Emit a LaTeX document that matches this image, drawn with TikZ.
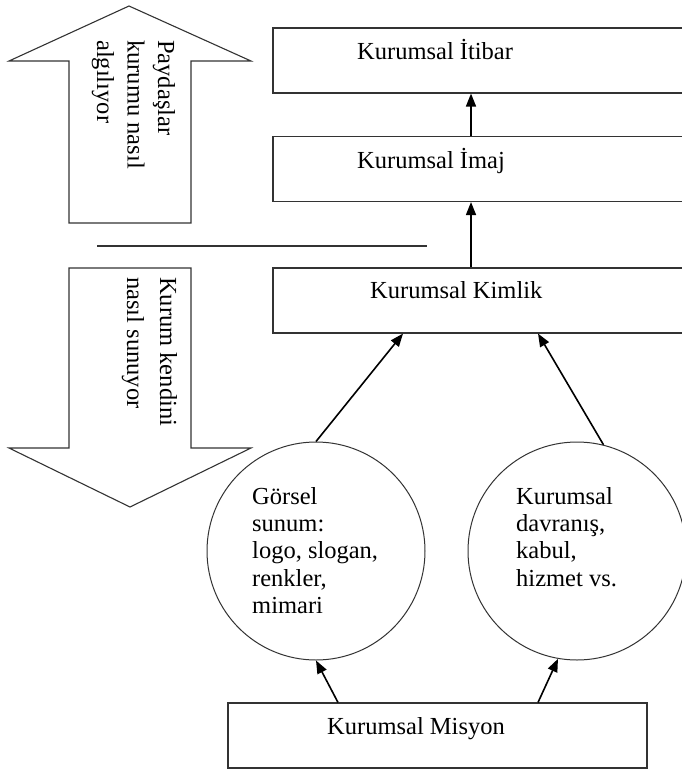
\documentclass[tikz,border=0pt]{standalone}
\usepackage{fontspec}
\setmainfont{Liberation Serif}
\usetikzlibrary{arrows.meta}
\begin{document}
\begin{tikzpicture}[x=1pt,y=-1pt,
  bigarrow/.style={draw=black!80,line width=1.1pt},
  box/.style={draw=black!80,line width=1.1pt,rectangle,minimum width=427pt,minimum height=65pt,inner sep=0pt},
  circ/.style={draw=black!80,line width=1pt,circle,minimum size=218pt,inner sep=0pt},
  txt/.style={inner sep=0pt,font=\fontsize{24.5}{27.4}\selectfont},
  arr/.style={line width=1.6pt,-{Triangle[length=13pt,width=10pt]}}]
\clip (0,0) rectangle (682,769);
\fill[white] (0,0) rectangle (682,769);
% big arrows
\draw[bigarrow] (129,6) -- (251,61) -- (191,61) -- (191,223) -- (69,223) -- (69,61) -- (9,61) -- cycle;
\draw[bigarrow] (69,268) -- (191,268) -- (191,448) -- (251,448) -- (130,507) -- (9,448) -- (69,448) -- cycle;
\node[txt,rotate=-90,anchor=base west,align=left,font=\fontsize{24.5}{30.5}\selectfont] (pay) at (97,40) {Paydaşlar\\kurumu nasıl\\algılıyor};
\node[txt,rotate=-90,anchor=base west,align=left,font=\fontsize{24.5}{33}\selectfont] (kur) at (127,277) {Kurum kendini\\nasıl sunuyor};
\draw[black!80,line width=1.1pt] (97,246) -- (427,246);
% boxes
\node[box] (itibar) at (486.5,60.5) {};
\node[box] (imaj) at (486.5,169) {};
\node[box] (kimlik) at (486.5,300.5) {};
\node[box,minimum width=419pt] (misyon) at (437.5,735.5) {};
\node[txt,anchor=base west] (titibar) at (357,59) {Kurumsal İtibar};
\node[txt,anchor=base west] (timaj) at (357,168) {Kurumsal İmaj};
\node[txt,anchor=base west] (tkimlik) at (370,298) {Kurumsal Kimlik};
\node[txt,anchor=base west] (tmisyon) at (327,734) {Kurumsal Misyon};
% circles
\node[circ] (gorsel) at (316,551) {};
\node[circ] (davr) at (577,551) {};
\node[txt,anchor=base west,align=left] (tgorsel) at (252,613.6) {Görsel\\sunum:\\logo, slogan,\\renkler,\\mimari};
\node[txt,anchor=base west,align=left] (tdavr) at (516,586.2) {Kurumsal\\davranış,\\kabul,\\hizmet vs.};
% connectors
\draw[arr] ([xshift=-15.5pt]imaj.north) -- ([xshift=-15.5pt]itibar.south);
\draw[arr] ([xshift=-15.5pt]kimlik.north) -- ([xshift=-15.5pt]imaj.south);
\draw[arr] (gorsel.north) -- ([xshift=-83.5pt]kimlik.south);
\draw[arr] (davr.76) -- ([xshift=51.5pt]kimlik.south);
\draw[arr] ([xshift=-99.5pt]misyon.north) -- (gorsel.south);
\draw[arr] ([xshift=100.5pt]misyon.north) -- (davr.260);
\end{tikzpicture}
\end{document}
